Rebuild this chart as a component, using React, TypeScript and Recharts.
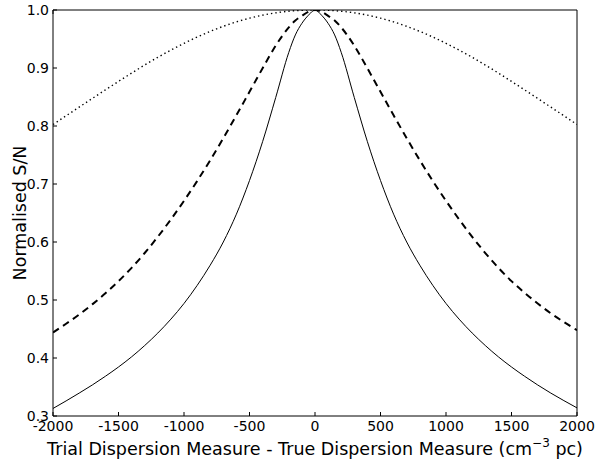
import { LineChart, Line, XAxis, YAxis, Label } from "recharts";

const FONT = "'DejaVu Sans', 'Bitstream Vera Sans', sans-serif";
const BLACK = "#000000";

// trial DM - true DM (cm^-3 pc)
const DM = [
  -2000, -1900, -1800, -1700, -1600, -1500, -1400, -1300, -1200, -1100, -1000,
  -900, -800, -700, -600, -500, -400, -300, -200, -150, -100, -50, 0, 50, 100,
  150, 200, 300, 400, 500, 600, 700, 800, 900, 1000, 1100, 1200, 1300, 1400,
  1500, 1600, 1700, 1800, 1900, 2000,
];

// normalised S/N
const SOLID = [
  0.313, 0.326, 0.3395, 0.3535, 0.3685, 0.3845, 0.402, 0.4215, 0.443, 0.467,
  0.494, 0.525, 0.56, 0.6, 0.648, 0.706, 0.773, 0.849, 0.927, 0.957, 0.977,
  0.991, 1.0, 0.991, 0.977, 0.957, 0.927, 0.849, 0.773, 0.706, 0.648, 0.6,
  0.56, 0.525, 0.494, 0.467, 0.443, 0.4215, 0.402, 0.3845, 0.3685, 0.3535,
  0.3395, 0.3265, 0.314,
];
const DASHED = [
  0.444, 0.459, 0.475, 0.4925, 0.5115, 0.5325, 0.5555, 0.581, 0.609, 0.639,
  0.671, 0.705, 0.741, 0.779, 0.8185, 0.859, 0.8995, 0.9385, 0.97, 0.982, 0.99,
  0.997, 1.0, 0.997, 0.99, 0.982, 0.97, 0.9385, 0.8995, 0.859, 0.8185, 0.779,
  0.741, 0.705, 0.671, 0.639, 0.609, 0.581, 0.5555, 0.5325, 0.5125, 0.494,
  0.477, 0.462, 0.448,
];
const DOTTED = [
  0.8026, 0.8176, 0.8326, 0.8475, 0.8623, 0.8769, 0.8912, 0.9051, 0.9184,
  0.9309, 0.9425, 0.9533, 0.9631, 0.9719, 0.9795, 0.9859, 0.9911, 0.9951,
  0.9979, 0.9988, 0.9995, 0.9999, 1.0, 0.9999, 0.9995, 0.9988, 0.9979, 0.9951,
  0.9911, 0.9859, 0.9795, 0.9719, 0.9631, 0.9533, 0.9425, 0.9309, 0.9184,
  0.9051, 0.8912, 0.8769, 0.8623, 0.8475, 0.8326, 0.8176, 0.8026,
];

const X_TICKS = [-2000, -1500, -1000, -500, 0, 500, 1000, 1500, 2000];
const Y_TICKS = [0.3, 0.4, 0.5, 0.6, 0.7, 0.8, 0.9, 1.0];

const data = DM.map((dm, i) => ({
  dm,
  solid: SOLID[i],
  dashed: DASHED[i],
  dotted: DOTTED[i],
}));

const tickStyle = { fill: BLACK, fontSize: 14, fontFamily: FONT };
const lineStyle = { stroke: BLACK, strokeWidth: 1 };
const blank = () => "";

function XTitle(props: any) {
  const { x, y, width } = props.viewBox;
  return (
    <text
      x={x + width / 2}
      y={y + 39}
      textAnchor="middle"
      fontSize={17.5}
      fontFamily={FONT}
      fill={BLACK}
    >
      Trial Dispersion Measure - True Dispersion Measure (cm
      <tspan dy={-8} fontSize={12}>
        −3
      </tspan>
      <tspan dy={8}>{"  pc)"}</tspan>
    </text>
  );
}

function YTitle(props: any) {
  const { y, height } = props.viewBox;
  const cy = y + height / 2;
  return (
    <text
      x={26}
      y={cy}
      transform={`rotate(-90, 26, ${cy})`}
      textAnchor="middle"
      fontSize={17.5}
      fontFamily={FONT}
      fill={BLACK}
    >
      Normalised S/N
    </text>
  );
}

export default function App() {
  return (
    <div style={{ position: "absolute", left: 0, top: 0, background: "#fff" }}>
      <LineChart
        width={596}
        height={461}
        data={data}
        margin={{ top: 9, right: 18, bottom: 0, left: 0 }}
      >
        <XAxis
          dataKey="dm"
          type="number"
          domain={[-2000, 2000]}
          ticks={X_TICKS}
          interval={0}
          height={45}
          tickSize={-4}
          tickMargin={9}
          tick={tickStyle}
          axisLine={lineStyle}
          tickLine={lineStyle}
          allowDataOverflow
        >
          <Label content={XTitle} />
        </XAxis>
        <XAxis
          xAxisId="top"
          orientation="top"
          type="number"
          domain={[-2000, 2000]}
          ticks={X_TICKS}
          interval={0}
          height={1}
          tickSize={-4}
          tickFormatter={blank}
          axisLine={lineStyle}
          tickLine={lineStyle}
        />
        <YAxis
          type="number"
          domain={[0.3, 1.0]}
          ticks={Y_TICKS}
          interval={0}
          width={53}
          tickSize={-4}
          tickMargin={8}
          tick={tickStyle}
          tickFormatter={(v: number) => v.toFixed(1)}
          axisLine={lineStyle}
          tickLine={lineStyle}
          allowDataOverflow
        >
          <Label content={YTitle} />
        </YAxis>
        <YAxis
          yAxisId="right"
          orientation="right"
          type="number"
          domain={[0.3, 1.0]}
          ticks={Y_TICKS}
          interval={0}
          width={1}
          tickSize={-4}
          tickFormatter={blank}
          axisLine={lineStyle}
          tickLine={lineStyle}
        />
        <Line
          type="monotone"
          dataKey="dotted"
          stroke={BLACK}
          strokeWidth={1.4}
          strokeDasharray="1.4 3"
          dot={false}
          activeDot={false}
          isAnimationActive={false}
        />
        <Line
          type="monotone"
          dataKey="dashed"
          stroke={BLACK}
          strokeWidth={2}
          strokeDasharray="7 5"
          dot={false}
          activeDot={false}
          isAnimationActive={false}
        />
        <Line
          type="monotone"
          dataKey="solid"
          stroke={BLACK}
          strokeWidth={1}
          dot={false}
          activeDot={false}
          isAnimationActive={false}
        />
      </LineChart>
    </div>
  );
}
